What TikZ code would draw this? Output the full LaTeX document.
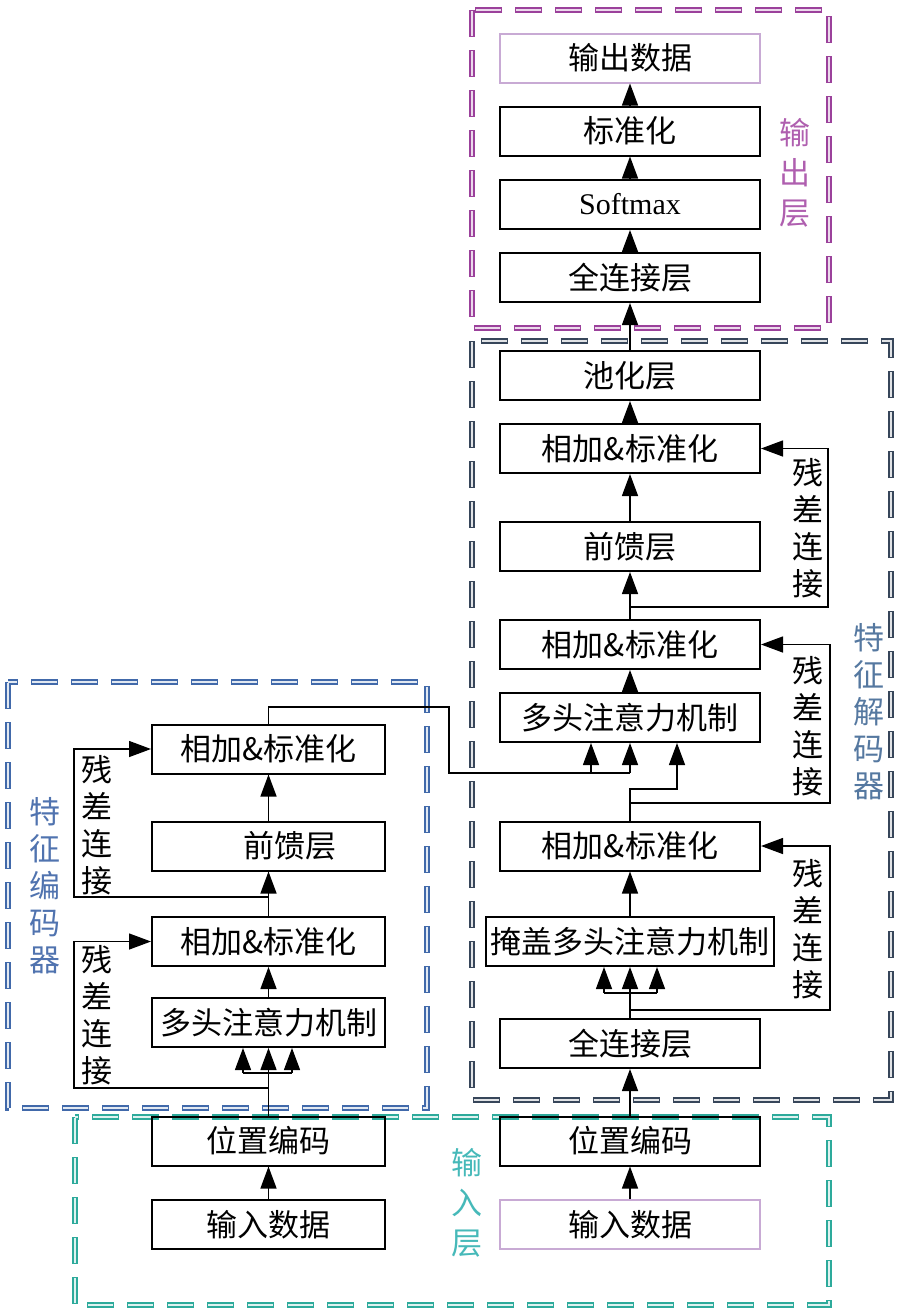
\documentclass[tikz,border=0pt]{standalone}
\usepackage{fontspec}
\setmainfont{Liberation Serif}
\newfontfamily\cjk{Noto Sans CJK SC}
\usetikzlibrary{arrows.meta}
\definecolor{outc}{RGB}{155,65,155}
\definecolor{outt}{RGB}{175,95,175}
\definecolor{decc}{RGB}{55,70,90}
\definecolor{dect}{RGB}{85,120,160}
\definecolor{encc}{RGB}{65,105,170}
\definecolor{enct}{RGB}{80,115,175}
\definecolor{inc}{RGB}{45,170,155}
\definecolor{inlab}{RGB}{70,185,185}
\definecolor{lpur}{RGB}{200,170,212}

\begin{document}
\begin{tikzpicture}[x=0.5pt, y=-0.5pt,
  blk/.style={draw, line width=1pt, minimum width=130pt, minimum height=24.5pt, inner sep=0pt, font=\cjk\fontsize{15.5}{18}\selectfont},
  lblk/.style={blk, minimum width=116.5pt},
  arr/.style={line width=0.7pt, -{Triangle[length=11pt, width=8pt]}},
  ln/.style={line width=0.7pt},
  grpo/.style={line width=2.7pt, dash pattern=on 13.5pt off 6.5pt},
  grpi/.style={line width=1.3pt, dash pattern=on 12.1pt off 7.9pt, dash phase=19.3pt},
  vtxt/.style={align=center, inner sep=0pt, font=\cjk\fontsize{15.5}{18.5}\selectfont}]
\useasboundingbox (0,0) rectangle (898,1313);
% dashed groups
\draw [grpo, outc] (472,10) rectangle (829,328);
\draw [grpi, outc!20] (472,10) rectangle (829,328);
\draw [grpo, decc] (472,341) rectangle (891,1100);
\draw [grpi, decc!15] (472,341) rectangle (891,1100);
\draw [grpo, encc] (8,682) rectangle (427,1108);
\draw [grpi, encc!15] (8,682) rectangle (427,1108);
\draw [grpo, inc] (75,1117) rectangle (829,1305);
\draw [grpi, inc!15] (75,1117) rectangle (829,1305);
% encoder
\node (lAddTop) at (268.5,749) [lblk] {相加\&标准化};
\node (lFF) at (268.5,846) [lblk] {\hspace*{21pt}前馈层};
\node (lAdd) at (268.5,941.5) [lblk] {相加\&标准化};
\node (lMHA) at (268.5,1022.5) [lblk] {多头注意力机制};
\node (lPE) at (268.5,1141) [lblk] {位置编码};
\node (lIn) at (268.5,1224.5) [lblk] {输入数据};
% decoder and output
\node (out) at (630,58) [blk, draw=lpur] {输出数据};
\node (norm) at (630,131) [blk] {标准化};
\node (soft) at (630,204.5) [blk, font=\fontsize{15}{18}\selectfont] {Softmax};
\node (fc2) at (630,277.5) [blk] {全连接层};
\node (pool) at (630,375.5) [blk] {池化层};
\node (rAdd3) at (630,448.5) [blk] {相加\&标准化};
\node (rFF) at (630,546.5) [blk] {前馈层};
\node (rAdd2) at (630,644.5) [blk] {相加\&标准化};
\node (rMHA) at (630,717.5) [blk] {多头注意力机制};
\node (rAdd1) at (630,846) [blk] {相加\&标准化};
\node (mMHA) at (630,941.5) [blk, minimum width=144pt] {掩盖多头注意力机制};
\node (fc1) at (630,1043.5) [blk] {全连接层};
\node (rPE) at (630,1141) [blk] {位置编码};
\node (rIn) at (630,1224.5) [blk, draw=lpur] {输入数据};
% group labels
\node (encLab) at (45,886) [vtxt, text=enct] {特\\征\\编\\码\\器};
\node (decLab) at (869,712) [vtxt, text=dect] {特\\征\\解\\码\\器};
\node (outLab) at (795,173) [vtxt, text=outt, font=\cjk\fontsize{15.5}{20}\selectfont] {输\\出\\层};
\node (inLab) at (467,1203) [vtxt, text=inlab, font=\cjk\fontsize{15.5}{20}\selectfont] {输\\入\\层};
% residual labels
\node (res1) at (97,1015.5) [vtxt] {残\\差\\连\\接};
\node (res2) at (97,825.5) [vtxt] {残\\差\\连\\接};
\node (res3) at (808,929) [vtxt] {残\\差\\连\\接};
\node (res4) at (808,726) [vtxt] {残\\差\\连\\接};
\node (res5) at (808,528) [vtxt] {残\\差\\连\\接};
% encoder connectors
\coordinate (lj1) at (268.5,1088);
\coordinate (lj2) at (268.5,897);
\draw [arr] (lIn) -- (lPE);
\draw [ln] (lPE.north) -- (268.5,1073);
\draw [ln] (243,1073) -- (292,1073);
\foreach \x in {243,268.5,292}
  \draw [arr] (\x,1073) -- (\x,0 |- lMHA.south);
\draw [arr] (lj1) -- (74,1088) -- (74,941.5) -- (lAdd.west);
\draw [arr] (lMHA) -- (lAdd);
\draw [arr] (lAdd) -- (lFF);
\draw [arr] (lj2) -- (74,897) -- (74,749) -- (lAddTop.west);
\draw [arr] (lFF) -- (lAddTop);
\draw [ln] (lAddTop.north) -- (268.5,707) -- (449,707) -- (449,773) -- (630,773);
\foreach \x in {591,630}
  \draw [arr] (\x,773) -- (\x,0 |- rMHA.south);
% decoder connectors
\coordinate (rj1) at (630,1010);
\coordinate (rj2) at (630,803);
\coordinate (rj3) at (630,607);
\draw [arr] (rIn) -- (rPE);
\draw [arr] (rPE) -- (fc1);
\draw [ln] (fc1.north) -- (630,993);
\draw [ln] (604,993) -- (657,993);
\foreach \x in {604,630,657}
  \draw [arr] (\x,993) -- (\x,0 |- mMHA.south);
\draw [arr] (rj1) -- (830,1010) -- (830,846) -- (rAdd1.east);
\draw [arr] (mMHA) -- (rAdd1);
\draw [arr] (rAdd1.north) -- (630,789) -- (677,789) -- (677,0 |- rMHA.south);
\draw [arr] (rj2) -- (830,803) -- (830,644.5) -- (rAdd2.east);
\draw [arr] (rMHA) -- (rAdd2);
\draw [arr] (rAdd2) -- (rFF);
\draw [arr] (rj3) -- (828,607) -- (828,448.5) -- (rAdd3.east);
\draw [arr] (rFF) -- (rAdd3);
\draw [arr] (rAdd3) -- (pool);
\draw [arr] (pool) -- (fc2);
\draw [arr] (fc2) -- (soft);
\draw [arr] (soft) -- (norm);
\draw [arr] (norm) -- (out);
\end{tikzpicture}
\end{document}
